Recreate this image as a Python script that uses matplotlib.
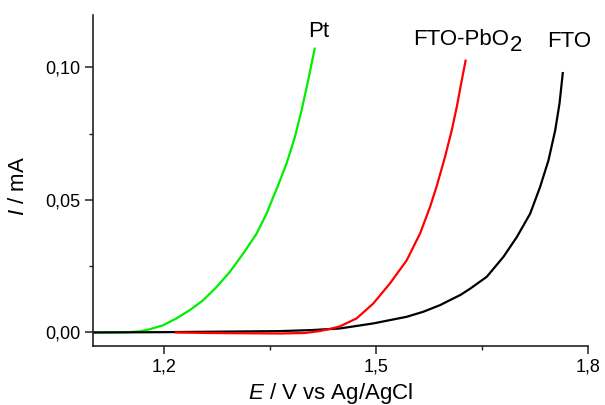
import matplotlib
matplotlib.use("Agg")
import matplotlib.pyplot as plt
from matplotlib.ticker import FixedLocator, FixedFormatter

plt.rcParams['font.family'] = ['Liberation Sans', 'DejaVu Sans']
plt.rcParams['mathtext.fontset'] = 'custom'
plt.rcParams['mathtext.rm'] = 'Liberation Sans'
plt.rcParams['mathtext.it'] = 'Liberation Sans:italic'

# Pt (green)
pt_E = [1.10, 1.13, 1.15, 1.166, 1.1802, 1.199, 1.218, 1.2368, 1.2556, 1.2746, 1.2934, 1.3123,
        1.3312, 1.3454, 1.3548, 1.3614, 1.3737, 1.3855, 1.395, 1.4043, 1.4138]
pt_I = [0.0, 0.0, 0.0001, 0.0004, 0.0012, 0.0027, 0.0053, 0.0084, 0.0121, 0.0171, 0.0228, 0.0297,
        0.0372, 0.0448, 0.0510, 0.0552, 0.0637, 0.0737, 0.0838, 0.0951, 0.1074]

# FTO-PbO2 (red)
pbo2_E = [1.2156, 1.26, 1.31, 1.364, 1.40, 1.42, 1.435, 1.4492, 1.4728, 1.4963, 1.52, 1.5436,
          1.5625, 1.5766, 1.5861, 1.5978, 1.6073, 1.6144, 1.6215, 1.6272]
pbo2_I = [0.0, -0.0002, -0.0003, -0.0004, -0.0002, 0.0005, 0.0013, 0.0023, 0.0053, 0.0109, 0.0185,
          0.0272, 0.0373, 0.0473, 0.0552, 0.0662, 0.0762, 0.085, 0.0951, 0.1029]

# FTO (black)
fto_E = [1.10, 1.20, 1.28, 1.364, 1.41, 1.4492, 1.4963, 1.5436, 1.5671, 1.5908, 1.6049, 1.6200,
         1.6333, 1.6569, 1.6804, 1.6994, 1.7182, 1.7323, 1.7441, 1.7536, 1.7597, 1.7645]
fto_I = [0.0, 0.0001, 0.0003, 0.0005, 0.0009, 0.0015, 0.0034, 0.0059, 0.0078, 0.0103, 0.0122, 0.0142,
         0.0165, 0.0210, 0.0285, 0.0360, 0.0448, 0.0549, 0.0649, 0.0762, 0.0863, 0.0982]

x_ticks = [1.2, 1.5, 1.8]
x_ticklabels = ['1,2', '1,5', '1,8']
x_minor = [1.35, 1.65]
y_ticks = [0.00, 0.05, 0.10]
y_ticklabels = ['0,00', '0,05', '0,10']
y_minor = [0.025, 0.075]

fig = plt.figure(figsize=(6.05, 4.05), dpi=100)
ax = fig.add_axes([93/605, 1-345.7/405, (588-93)/605, (345.7-15)/405])

lw = 1.6
kw = dict(lw=lw, solid_joinstyle='round', solid_capstyle='butt')
ax.plot(pt_E, pt_I, color='#00ee00', **kw)
ax.plot(fto_E, fto_I, color='black', **kw)
ax.plot(pbo2_E, pbo2_I, color='#ff0000', **kw)

ax.set_xlim(1.1, 1.8)
ax.set_ylim(-0.005, 0.1197)

for s in ['top', 'right']:
    ax.spines[s].set_visible(False)
for s in ['left', 'bottom']:
    ax.spines[s].set_linewidth(1.2)
    ax.spines[s].set_color('#222222')

ax.xaxis.set_major_locator(FixedLocator(x_ticks))
ax.xaxis.set_major_formatter(FixedFormatter(x_ticklabels))
ax.xaxis.set_minor_locator(FixedLocator(x_minor))
ax.yaxis.set_major_locator(FixedLocator(y_ticks))
ax.yaxis.set_major_formatter(FixedFormatter(y_ticklabels))
ax.yaxis.set_minor_locator(FixedLocator(y_minor))
ax.tick_params(which='major', direction='out', length=5.5, width=1.1, labelsize=13,
               color='#222222', pad=3.5)
ax.tick_params(which='minor', direction='out', length=3, width=1.0, color='#222222')

fig.text(331/605, 1-394/405, r'$\it{E}$ / V vs Ag/AgCl', ha='center', va='center', fontsize=16)
fig.text(18/605, 1-186/405, r'$\it{I}$ / mA', ha='center', va='center', rotation=90, fontsize=16)

ax.text(1.4039, 0.1114, 'Pt', ha='left', va='baseline', fontsize=16)
t = ax.text(1.5525, 0.1085, 'FTO-PbO', ha='left', va='baseline', fontsize=16)
ax.annotate('2', xy=(1, 0), xycoords=t, xytext=(0.5, -4.5), textcoords='offset points',
            ha='left', va='bottom', fontsize=16)
ax.text(1.7418, 0.1076, 'FTO', ha='left', va='baseline', fontsize=16)

fig.savefig('out.png', dpi=100)
